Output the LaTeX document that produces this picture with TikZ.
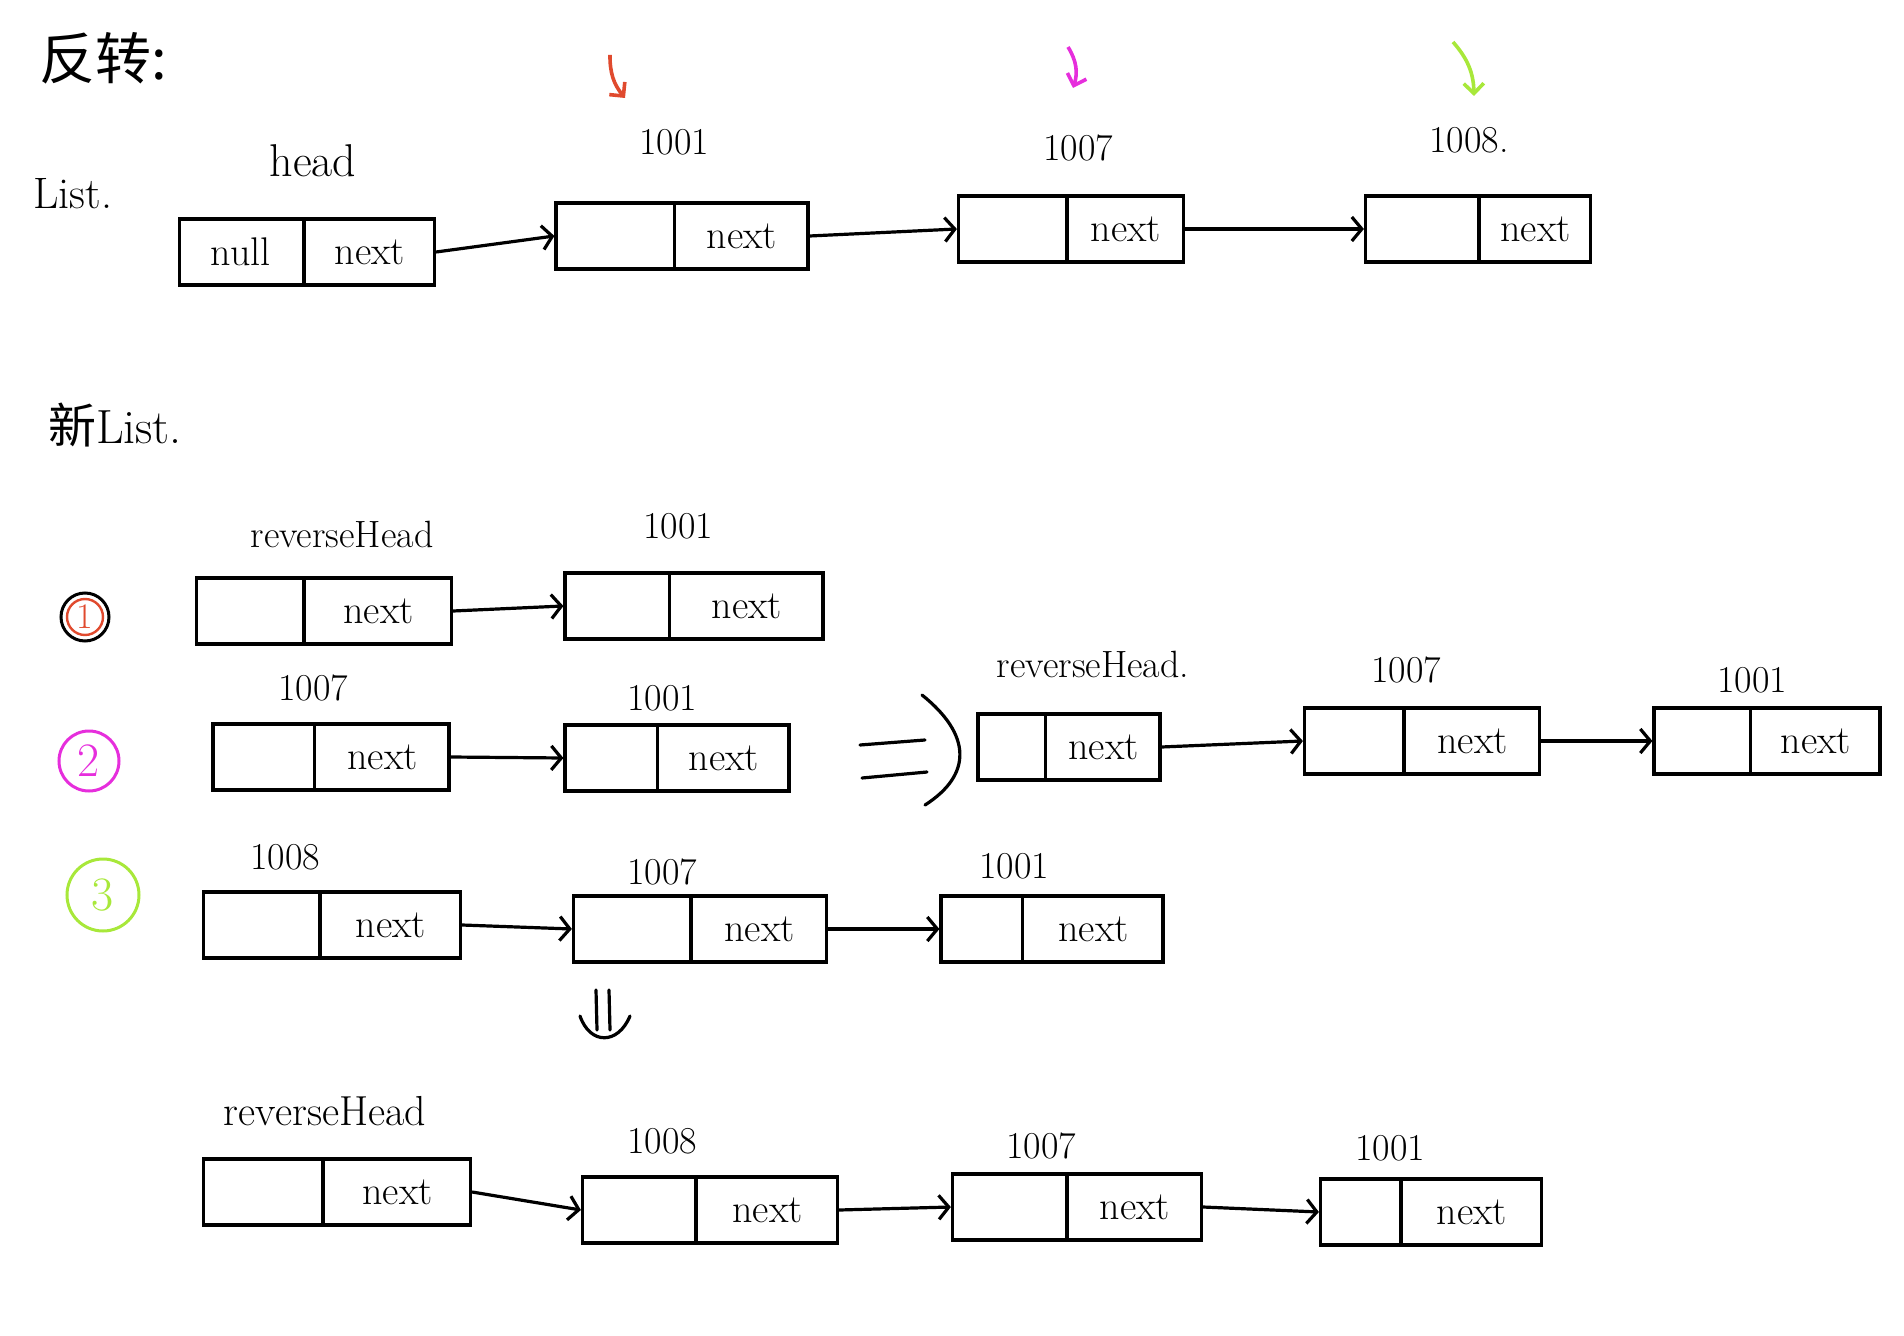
\documentclass[tikz,border=0pt]{standalone}
\usepackage{fontspec}
\newfontfamily\cjk{Noto Sans CJK SC}
\usetikzlibrary{arrows.meta,calc}
\definecolor{markred}{HTML}{E04A2E}
\definecolor{markmag}{HTML}{E62EDC}
\definecolor{markgreen}{HTML}{A8E83A}
\tikzset{
  cell/.style={draw, line width=1.6pt, inner sep=0pt, minimum height=33pt},
  celltext/.style={font=\fontsize{20}{24}\selectfont, inner sep=0pt},
  addr/.style={font=\fontsize{19}{22}\selectfont, inner sep=1pt},
  title/.style={font=\fontsize{22}{26}\selectfont, inner sep=0pt},
  link/.style={line width=1.6pt, -{Straight Barb[length=5pt,width=12pt]}},
  pointer/.style={line width=1.8pt, -{Straight Barb[length=5pt,width=10pt]}},
  stroke/.style={line width=1.6pt, line cap=round},
  badge/.style={circle, line width=1.5pt, inner sep=0pt, font=\fontsize{24}{26}\selectfont}
}
% name, cx, cy, width(px), divider offset(px), left text, right text
\newcommand{\lnode}[7]{%
  \node[cell, minimum width=#4*0.5pt] (#1) at (#2,#3) {};
  \draw[line width=1.6pt] ([xshift=#5*0.5pt]#1.north west) -- ([xshift=#5*0.5pt]#1.south west);
  \node[celltext] (#1-l) at ($(#1.west)!0.5!([xshift=#5*0.5pt]#1.west)$) {#6};
  \node[celltext] (#1-r) at ($([xshift=#5*0.5pt]#1.west)!0.5!(#1.east)$) {#7};
}
\begin{document}
\begin{tikzpicture}[x=0.5pt,y=-0.5pt]
\useasboundingbox (0,0) rectangle (1904,1336);

% titles
\node[font=\cjk\fontsize{28}{34}\selectfont, inner sep=0pt] (t0) at (103,58) {反转:};
\node[title] (tlist) at (73,194) {List.};
\node[font=\fontsize{24}{28}\selectfont, inner sep=0pt] (tnew) at (115,425) {{\cjk 新}List.};

% ---------- original list ----------
\lnode{head}{307}{252}{255}{126}{null}{next}
\lnode{ta}{682}{236}{252}{120}{}{next}
\lnode{tb}{1071}{229}{225}{110}{}{next}
\lnode{tc}{1478}{229}{225}{115}{}{next}
\node[font=\fontsize{23}{26}\selectfont] (Lhead) at (313,161) {head};
\node[addr] (Lta) at (674,142) {1001};
\node[addr] (Ltb) at (1078,148) {1007};
\node[addr] (Ltc) at (1469,140) {1008.};
\draw[link] (head.east) -- (ta.west);
\draw[link] (ta.east) -- (tb.west);
\draw[link] (tb.east) -- (tc.west);

\coordinate (pa1) at (610,55);  \coordinate (pa2) at (625,98);
\coordinate (pb1) at (1068,47); \coordinate (pb2) at (1073,88);
\coordinate (pc1) at (1453,42); \coordinate (pc2) at (1474,96);
\draw[pointer, markred] (pa1) to[bend right=20] (pa2);
\draw[pointer, markmag] (pb1) to[bend left=25] (pb2);
\draw[pointer, markgreen] (pc1) to[bend left=20] (pc2);

% ---------- step 1 ----------
\node[badge, draw=black, minimum size=24pt] (c1) at (85,617) {};
\node[badge, draw=markred, text=markred, minimum size=18pt, line width=1.2pt, font=\fontsize{18}{20}\selectfont] (c1i) at (c1) {1};
\lnode{ra}{324}{611}{255}{109}{}{next}
\lnode{rb}{694}{606}{258}{106}{}{next}
\node[addr] (Lra) at (342,534) {reverseHead};
\node[addr] (Lrb) at (678,526) {1001};
\draw[link] (ra.east) -- (rb.west);

% ---------- step 2 ----------
\node[badge, draw=markmag, text=markmag, minimum size=30pt] (c2) at (89,761) {2};
\lnode{sa}{331}{757}{236}{103}{}{next}
\lnode{sb}{677}{758}{224}{94}{}{next}
\lnode{sh}{1069}{747}{182}{69}{}{next}
\lnode{sc}{1422}{741}{235}{101}{}{next}
\lnode{sd}{1767}{741}{226}{98}{}{next}
\node[addr] (Lsa) at (313,688) {1007};
\node[addr] (Lsb) at (662,698) {1001};
\node[addr] (Lsh) at (1093,664) {reverseHead.};
\node[addr] (Lsc) at (1406,670) {1007};
\node[addr] (Lsd) at (1752,680) {1001};
\draw[link] (sa.east) -- (sb.west);
\draw[link] (sh.east) -- (sc.west);
\draw[link] (sc.east) -- (sd.west);
% big "implies" sign
\draw[stroke] (860,745) -- (925,740);
\draw[stroke] (862,778) -- (927,772);
\draw[stroke] (922,695) .. controls (972,735) and (972,775) .. (925,805);

% ---------- step 3 ----------
\node[badge, draw=markgreen, text=markgreen, minimum size=36pt] (c3) at (103,895) {3};
\lnode{ua}{332}{925}{257}{118}{}{next}
\lnode{ub}{700}{929}{253}{119}{}{next}
\lnode{uc}{1052}{929}{222}{83}{}{next}
\node[addr] (Lua) at (285,857) {1008};
\node[addr] (Lub) at (662,872) {1007};
\node[addr] (Luc) at (1014,866) {1001};
\draw[link] (ua.east) -- (ub.west);
\draw[link] (ub.east) -- (uc.west);
% downward implies sign
\draw[stroke] (596,990) -- (597,1030);
\draw[stroke] (609,990) -- (610,1030);
\draw[stroke] (580,1016) .. controls (590,1045) and (618,1045) .. (630,1016);

% ---------- result ----------
\lnode{va}{337}{1192}{267}{121}{}{next}
\lnode{vb}{710}{1210}{255}{115}{}{next}
\lnode{vc}{1077}{1207}{249}{116}{}{next}
\lnode{vd}{1431}{1212}{221}{82}{}{next}
\node[font=\fontsize{21}{24}\selectfont] (Lva) at (325,1111) {reverseHead};
\node[addr] (Lvb) at (662,1141) {1008};
\node[addr] (Lvc) at (1041,1146) {1007};
\node[addr] (Lvd) at (1390,1148) {1001};
\draw[link] (va.east) -- (vb.west);
\draw[link] (vb.east) -- (vc.west);
\draw[link] (vc.east) -- (vd.west);
\end{tikzpicture}
\end{document}
